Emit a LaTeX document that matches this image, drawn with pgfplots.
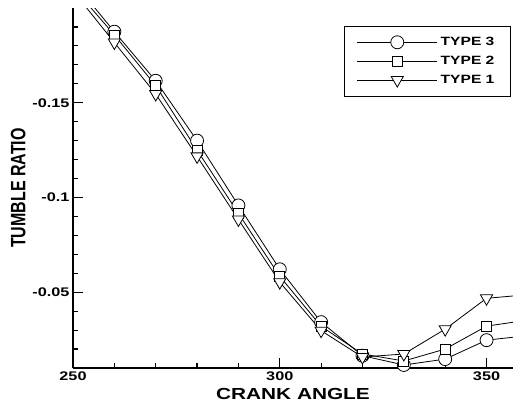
\documentclass[border=0pt]{standalone}
\usepackage{pgfplots}
\pgfplotsset{compat=1.18}
\usepackage{graphicx}
\usepackage{fontspec}
\setmainfont{Liberation Sans}[FakeStretch=1.3]
\newfontfamily\plainsans{Liberation Sans}

\pgfplotstableread{
x     t3       t2       t1
260  -0.1875  -0.1858  -0.1818
270  -0.1616  -0.1590  -0.1546
280  -0.1300  -0.1250  -0.1217
290  -0.0958  -0.0916  -0.0884
300  -0.0621  -0.0584  -0.0553
310  -0.0342  -0.0320  -0.0297
320  -0.0165  -0.0174  -0.0158
330  -0.0116  -0.0137  -0.0174
340  -0.0147  -0.0200  -0.0305
350  -0.0247  -0.0321  -0.0468
}\data

\pgfplotsset{
  curve/.style={black, line width=0.8pt, mark options={solid, fill=white, line width=0.8pt}},
}

\begin{document}
\begin{tikzpicture}
\useasboundingbox (-73pt,-37pt) rectangle (440pt,368pt);
\begin{axis}[
  scale only axis, width=440pt, height=360pt,
  xmin=250, xmax=356.4, ymin=-0.2, ymax=-0.01, y dir=reverse,
  axis x line=bottom, axis y line=left,
  axis line style={line width=1.5pt, -},
  xtick={250,300,350}, xticklabels={250,300,350},
  minor xtick={260,270,280,290,310,320,330,340},
  ytick={-0.15,-0.1,-0.05}, yticklabels={-0.15,-0.1,-0.05},
  minor ytick={-0.19,-0.18,-0.17,-0.16,-0.14,-0.13,-0.12,-0.11,-0.09,-0.08,-0.07,-0.06,-0.04,-0.03,-0.02},
  tick align=inside, major tick length=10pt, minor tick length=5pt,
  tick style={black, line width=1.2pt},
  ticklabel style={font=\bfseries\fontsize{12.5}{12.5}\selectfont},
  xlabel={CRANK ANGLE},
  xlabel style={font=\bfseries\fontsize{16}{16}\selectfont, yshift=-1pt},
  ylabel={\scalebox{1.3}[1]{\rotatebox{90}{\plainsans\bfseries\fontsize{16}{16}\selectfont TUMBLE RATIO}}},
  ylabel style={rotate=-90},
  legend style={at={(0.9948,0.95)}, anchor=north east, draw=black, line width=0.6pt,
    font=\bfseries\fontsize{12}{12}\selectfont, inner xsep=13pt, inner ysep=6.5pt,
    nodes={inner xsep=3pt, inner ysep=3.5pt, text height=9.5pt, text depth=2.4pt},
    /tikz/every even column/.append style={column sep=7pt}},
  legend cell align=left,
  legend image code/.code={\draw[mark repeat=2,mark phase=2,#1] plot coordinates {(0pt,0pt) (40pt,0pt) (80pt,0pt)};},
]
\addplot[curve, mark=*, mark size=6.5pt] table[x=x, y=t3] {\data};
\addlegendentry{TYPE 3}
\addplot[curve, mark=square*, mark size=5pt] table[x=x, y=t2] {\data};
\addlegendentry{TYPE 2}
\addplot[curve, mark=triangle*, mark size=7pt, mark options={solid, fill=white, line width=0.8pt, rotate=180}] table[x=x, y=t1] {\data};
\addlegendentry{TYPE 1}
% segments running out of the frame
\addplot[curve, forget plot] coordinates {(250,-0.214) (260,-0.1875)};
\addplot[curve, forget plot] coordinates {(350,-0.0247) (360,-0.0271)};
\addplot[curve, forget plot] coordinates {(250,-0.211) (260,-0.1858)};
\addplot[curve, forget plot] coordinates {(350,-0.0321) (360,-0.0353)};
\addplot[curve, forget plot] coordinates {(250,-0.209) (260,-0.1818)};
\addplot[curve, forget plot] coordinates {(350,-0.0468) (360,-0.0487)};
\end{axis}
\end{tikzpicture}
\end{document}
